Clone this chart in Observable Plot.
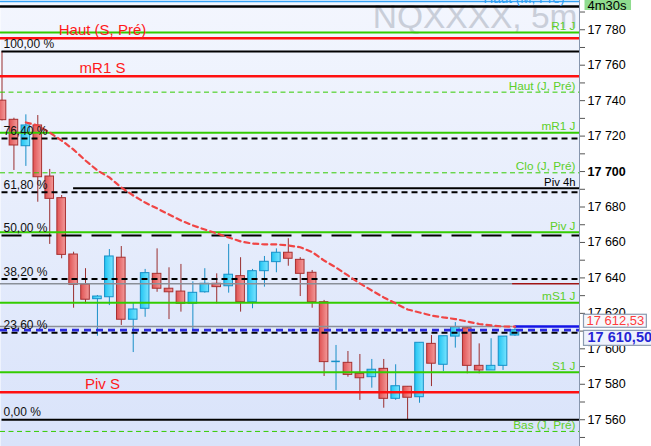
<!DOCTYPE html>
<html><head><meta charset="utf-8">
<script src="https://cdn.jsdelivr.net/npm/d3@7"></script>
<script src="https://cdn.jsdelivr.net/npm/@observablehq/plot@0.6"></script>
<style>body{margin:0;background:#fff;} svg{display:block}</style>
</head><body><div id="chart"></div>
<script>
// ---- data ----
const candleOpen  = [17740.0,17729.2,17714.3,17726.0,17697.2,17685.0,17653.2,17636.3,17628.0,17629.1,17651.4,17616.4,17622.6,17642.3,17633.9,17632.3,17625.4,17631.9,17636.7,17635.3,17641.0,17626.3,17643.8,17648.9,17654.2,17650.2,17642.9,17626.3,17592.9,17592.1,17585.9,17584.0,17588.7,17571.8,17578.6,17572.7,17602.8,17591.0,17606.9,17611.6,17590.4,17587.8,17590.4,17607.5];
const candleHigh  = [17767.75,17730.1,17732.0,17731.6,17701.2,17686.5,17654.5,17645.2,17630.1,17656.0,17657.7,17625.7,17644.8,17656.4,17645.7,17647.6,17637.8,17645.2,17642.3,17658.9,17651.4,17644.8,17652.1,17656.4,17662.1,17651.4,17644.2,17627.3,17601.9,17598.5,17596.8,17594.0,17594.0,17591.0,17578.6,17603.4,17607.5,17607.1,17614.8,17612.6,17602.8,17605.7,17606.9,17612.6];
const candleLow   = [17728.5,17700.6,17702.9,17682.7,17658.9,17650.8,17622.9,17625.4,17607.1,17624.4,17613.2,17597.9,17617.8,17631.9,17616.5,17620.7,17610.3,17631.4,17625.4,17631.4,17620.7,17622.6,17634.8,17642.9,17646.6,17629.5,17622.9,17584.4,17576.5,17584.0,17570.9,17577.8,17566.5,17570.9,17560.0,17569.3,17578.7,17587.2,17600.4,17585.9,17585.9,17587.8,17587.8,17607.0];
const candleClose = [17729.0,17714.7,17726.0,17696.8,17684.6,17653.0,17636.1,17627.7,17629.5,17652.1,17616.4,17622.2,17642.7,17633.9,17631.9,17625.4,17631.6,17636.7,17634.8,17641.8,17626.3,17643.8,17649.1,17654.2,17650.8,17642.3,17626.3,17592.5,17592.9,17585.3,17583.4,17588.2,17571.8,17578.9,17572.4,17603.4,17591.6,17607.1,17612.2,17590.4,17587.8,17590.4,17606.9,17610.5];
const movingAverage = [null,null,17727.7,17726.0,17722.0,17717.5,17712.4,17706.2,17700.6,17696.7,17691.0,17686.5,17682.5,17679.2,17675.8,17672.4,17669.6,17667.3,17665.1,17662.8,17660.6,17659.4,17658.9,17658.9,17658.3,17657.3,17654.6,17649.8,17645.9,17641.4,17636.9,17632.9,17629.0,17625.6,17622.2,17620.5,17618.8,17617.7,17616.8,17615.4,17614.0,17613.2,17612.6,17612.53];

const dayLevelNames  = ["R1 J","Haut (J, Pré)","mR1 J","Clo (J, Pré)","Piv J","mS1 J","S1 J","Bas (J, Pré)"];
const dayLevelPrices = [17778.4,17744.8,17721.9,17699.3,17665.8,17626.0,17586.8,17553.4];
const weekLevelNames  = ["Haut (S, Pré)","mR1 S","Piv S"];
const weekLevelPrices = [17775.2,17753.8,17575.5];
const monthLevelNames  = ["Haut (M, Pré)"];
const monthLevelPrices = [17796.0];
const h4LevelNames  = ["Piv 4h"];
const h4LevelPrices = [17690.6];
const h4StartCandle = 6;
const blackLevelPrices = [17793.1];
const priorLevelPrices = [17636.7, 17612.6];

const fibHigh = 17767.75, fibLow = 17560.0;
const fibRatios = [1, 0.764, 0.618, 0.5, 0.382, 0.236, 0];
const fibLabels = ["100,00 %","76,40 %","61,80 %","50,00 %","38,20 %","23,60 %","0,00 %"];

const lastPrice = 17610.50;
const averageLast = 17612.53;
const timerLabel = "4m30s";
const symbolLabel = "NQXXXX, 5m";
const yTicks = d3.range(17550, 17791, 10);

// ---- derived ----
const n = candleOpen.length;
const candles = candleOpen.map((o, i) => ({i, o, h: candleHigh[i], l: candleLow[i], c: candleClose[i], up: candleClose[i] >= o}));
const ma = movingAverage.map((v, i) => ({i, v})).filter(d => d.v != null);
const fibs = fibRatios.map((r, k) => ({r, label: fibLabels[k], p: fibLow + r * (fibHigh - fibLow)}));
const days = dayLevelNames.map((name, k) => ({name, p: dayLevelPrices[k], dashed: name.includes("Pré")}));
const weeks = weekLevelNames.map((name, k) => ({name, p: weekLevelPrices[k]}));
const months = monthLevelNames.map((name, k) => ({name, p: monthLevelPrices[k]}));
const h4s = h4LevelNames.map((name, k) => ({name, p: h4LevelPrices[k]}));

const xDomain = [-0.126, 48.41];
const half = 0.36;
const fr = v => d3.format(",.2f")(v).replace(",", " ").replace(".", ",");
const tickFmt = v => v % 20 === 0 ? d3.format(",")(v).replace(",", " ") : "";
const GREEN = "#33cc00";

const svg = Plot.plot({
  width: 651, height: 446,
  marginLeft: 0, marginRight: 72, marginTop: 0, marginBottom: 0,
  x: {domain: xDomain, axis: null},
  y: {domain: [17544.9, 17796.5], axis: null},
  style: {background: "#ffffff", fontFamily: "'Liberation Sans', Arial, sans-serif", color: "#000"},
  marks: [
    Plot.frame({fill: "url(#bgGrad)", stroke: null}),
    Plot.text([symbolLabel], {frameAnchor: "top-right", dx: -2, dy: 27.5, lineAnchor: "bottom", textAnchor: "end", fontSize: 33.5, fill: "#c9ced9"}),
    // candles
    Plot.ruleX(candles.filter(d => !d.up), {x: "i", y1: "l", y2: "h", stroke: "#9a2e2e", strokeWidth: 1}),
    Plot.ruleX(candles.filter(d => d.up), {x: "i", y1: "l", y2: "h", stroke: "#1a8fc8", strokeWidth: 1}),
    Plot.rect(candles.filter(d => !d.up), {x1: d => d.i - half, x2: d => d.i + half, y1: "o", y2: "c", fill: "url(#redBody)", stroke: "#a83030", strokeWidth: 1}),
    Plot.rect(candles.filter(d => d.up && d.o !== d.c), {x1: d => d.i - half, x2: d => d.i + half, y1: "o", y2: "c", fill: "url(#blueBody)", stroke: "#1790c8", strokeWidth: 1}),
    Plot.ruleY(candles.filter(d => d.o === d.c), {y: "o", x1: d => d.i - half, x2: d => d.i + half, stroke: "#1790c8", strokeWidth: 1.5}),
    // prior levels
    Plot.ruleY(priorLevelPrices, {x1: () => xDomain[0], x2: () => n - 1.2, stroke: "#8a8f98", strokeWidth: 1.5}),
    Plot.ruleY(priorLevelPrices.slice(0, 1), {x1: () => n - 1.2, x2: () => xDomain[1], stroke: "#a01414", strokeWidth: 1.5}),
    Plot.ruleY([candleHigh[n - 1]], {x1: () => n - 1, x2: () => xDomain[1], stroke: "#1414e6", strokeWidth: 2.5}),
    // levels
    Plot.ruleY(months, {y: "p", stroke: "#36a2f5", strokeWidth: 1.5}),
    Plot.ruleY(blackLevelPrices, {stroke: "#000", strokeWidth: 2.5}),
    Plot.ruleY(days.filter(d => !d.dashed), {y: "p", stroke: GREEN, strokeWidth: 2}),
    Plot.ruleY(days.filter(d => d.dashed), {y: "p", stroke: GREEN, strokeWidth: 1, strokeDasharray: "5,3.5"}),
    Plot.ruleY(weeks, {y: "p", stroke: "#ff1010", strokeWidth: 2.5}),
    Plot.ruleY(h4s, {y: "p", x1: () => h4StartCandle, x2: () => xDomain[1], stroke: "#000", strokeWidth: 2}),
    Plot.ruleY(fibs.filter(d => d.r === 0 || d.r === 1), {y: "p", x1: () => 0, x2: () => xDomain[1], stroke: "#000", strokeWidth: 2}),
    Plot.ruleY(fibs.filter(d => d.r === 0.5), {y: "p", x1: () => 0, x2: () => xDomain[1], stroke: "#000", strokeWidth: 2, strokeDasharray: "20,10"}),
    Plot.ruleY(fibs.filter(d => d.r !== 0 && d.r !== 1 && d.r !== 0.5), {y: "p", x1: () => 0, x2: () => xDomain[1], stroke: "#000", strokeWidth: 2, strokeDasharray: "6,4"}),
    // current price
    Plot.ruleY([lastPrice], {stroke: "#2a2adc", strokeWidth: 2.7, strokeDasharray: "7,5"}),
    // moving average
    Plot.line(ma, {x: "i", y: "v", stroke: "#f04545", strokeWidth: 2.2, strokeDasharray: "5,4"}),
    // labels
    Plot.text(days, {y: "p", text: "name", frameAnchor: "right", dx: -4, dy: -2.5, textAnchor: "end", lineAnchor: "bottom", fontSize: 11.8, fill: "#5ccf2a"}),
    Plot.text(h4s, {y: "p", text: "name", frameAnchor: "right", dx: -4, dy: -2.5, textAnchor: "end", lineAnchor: "bottom", fontSize: 11.3, fill: "#000"}),
    Plot.text(months, {y: "p", text: "name", frameAnchor: "right", dx: -15, dy: 1.5, textAnchor: "end", lineAnchor: "bottom", fontSize: 13.5, fill: "#2a9df4"}),
    Plot.text(weeks, {y: "p", text: "name", frameAnchor: "left", dx: 102, dy: -3.5, textAnchor: "middle", lineAnchor: "bottom", fontSize: 15, fill: "#ff1a1a"}),
    Plot.text(fibs, {y: "p", text: "label", frameAnchor: "left", dx: 3, dy: -3.5, textAnchor: "start", lineAnchor: "bottom", fontSize: 12, fill: "#111"}),
    // axis
    Plot.ruleX([xDomain[1]], {stroke: "#8796ad", strokeWidth: 1}),
    Plot.axisY({anchor: "right", ticks: yTicks, tickSize: 5, tickPadding: 3, tickFormat: tickFmt, fontSize: 12.5, stroke: "#555"}),
    // right tags
    Plot.text([averageLast], {y: d => d, text: fr, frameAnchor: "right", dx: 7, dy: -5.5, textAnchor: "start", lineAnchor: "middle", fontSize: 13, fill: "#ff3c3c"}),
    Plot.text([lastPrice], {y: d => d, text: fr, frameAnchor: "right", dx: 8, dy: 7.5, textAnchor: "start", lineAnchor: "middle", fontSize: 14.5, fontWeight: "bold", fill: "#2525d5"}),
    Plot.text([timerLabel], {frameAnchor: "top-right", dx: 8, dy: 9.5, textAnchor: "start", lineAnchor: "bottom", fontSize: 13, fill: "#000"})
  ]
});

document.getElementById("chart").appendChild(svg);

// gradients
const NS = "http://www.w3.org/2000/svg";
const defs = document.createElementNS(NS, "defs");
defs.innerHTML = `
<linearGradient id="bgGrad" x1="0" y1="0" x2="0" y2="1"><stop offset="0" stop-color="#f3f6fe"/><stop offset="1" stop-color="#d9e3fa"/></linearGradient>
<linearGradient id="redBody" x1="0" y1="0" x2="1" y2="0"><stop offset="0" stop-color="#e05252"/><stop offset="1" stop-color="#f39a9a"/></linearGradient>
<linearGradient id="blueBody" x1="0" y1="0" x2="1" y2="0"><stop offset="0" stop-color="#22c4f2"/><stop offset="1" stop-color="#78e4ff"/></linearGradient>`;
svg.insertBefore(defs, svg.firstChild);

const allTexts = Array.from(svg.querySelectorAll("text"));
// bold 17 700
allTexts.forEach(t => { if (t.textContent === "17 700") t.setAttribute("font-weight", "bold"); });

// tag boxes
function boxBehind(content, padL, padR, padT, padB, fill, stroke, extraRight) {
  try {
    const t = allTexts.find(e => e.textContent === content);
    if (!t) return;
    const b = t.getBBox();
    const r = document.createElementNS(NS, "rect");
    r.setAttribute("x", b.x - padL);
    r.setAttribute("y", b.y - padT);
    r.setAttribute("width", b.width + padL + padR + extraRight);
    r.setAttribute("height", b.height + padT + padB);
    r.setAttribute("fill", fill);
    if (stroke) { r.setAttribute("stroke", stroke); r.setAttribute("stroke-width", 1.2); }
    const tr = t.getAttribute("transform");
    if (tr) r.setAttribute("transform", tr);
    t.parentNode.insertBefore(r, t);
  } catch (e) { console.error(e); }
}
boxBehind(fr(averageLast), 3, 2, -1, -1, "#f7f8fc", "#8c9bb0", 0);
boxBehind(fr(lastPrice), 4, 2, -1, 0, "#eef2fc", "#8c9bb0", 20);
boxBehind(timerLabel, 3, 4, -2, -3, "#8fdc8f", null, 0);
</script></body></html>
